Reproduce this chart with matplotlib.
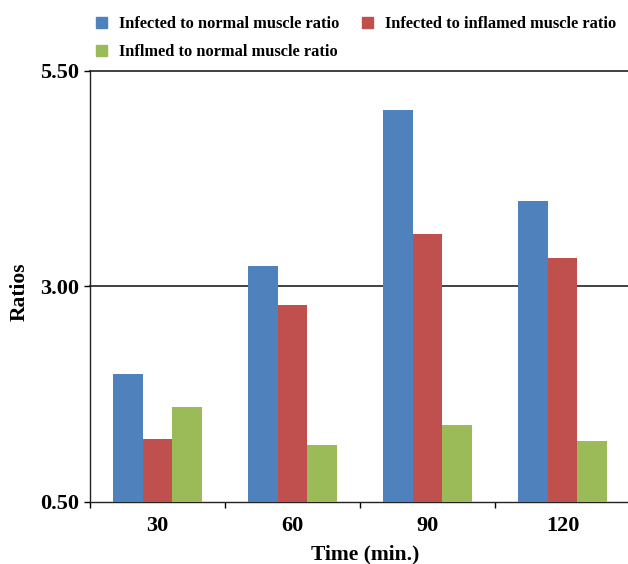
import matplotlib
matplotlib.use("Agg")
import matplotlib.pyplot as plt
import numpy as np
from matplotlib.patches import Patch

categories = ["30", "60", "90", "120"]
series_names = ["Infected to normal muscle ratio",
                "Infected to inflamed muscle ratio",
                "Inflmed to normal muscle ratio"]
infected_normal = [1.98, 3.24, 5.05, 3.99]
infected_inflamed = [1.23, 2.78, 3.61, 3.33]
inflamed_normal = [1.60, 1.16, 1.39, 1.20]
yticks = [0.50, 3.00, 5.50]

colors = ["#4F81BD", "#C0504D", "#9BBB59"]
font = "Liberation Serif"

fig = plt.figure(figsize=(6.28, 5.64), dpi=100)
ax = fig.add_axes([90 / 628, (564 - 501.7) / 564, 540 / 628, 430.7 / 564])

x = np.arange(len(categories))
w = 0.222
for i, (vals, c) in enumerate(zip([infected_normal, infected_inflamed, inflamed_normal], colors)):
    ax.bar(x + (i - 1) * w, np.array(vals) - 0.5, bottom=0.5, width=w, color=c, zorder=3)

ax.set_xlim(-0.5, len(categories) - 0.5)
ax.set_ylim(0.5, 5.5)
ax.set_yticks(yticks)
ax.set_yticklabels([f"{v:.2f}" for v in yticks])
ax.set_xticks(x)
ax.set_xticklabels(categories)
ax.set_xticks(np.arange(-0.5, len(categories) + 0.5, 1.0), minor=True)
ax.tick_params(axis="x", which="major", length=0, pad=10)
ax.tick_params(axis="x", which="minor", length=4.5, width=1.0, direction="out")
ax.tick_params(axis="y", length=4, width=1.0, pad=4)
for lbl in ax.get_xticklabels() + ax.get_yticklabels():
    lbl.set_fontfamily(font)
    lbl.set_fontweight("bold")
    lbl.set_fontsize(16)

for v in yticks[1:]:
    ax.axhline(v, color="#333333", linewidth=1.3, zorder=1, clip_on=False)

for s in ["top", "right"]:
    ax.spines[s].set_visible(False)
for s in ["left", "bottom"]:
    ax.spines[s].set_linewidth(1.0)
    ax.spines[s].set_color("#222222")

ax.set_ylabel("Ratios", fontfamily=font, fontweight="bold", fontsize=15.5)
ax.yaxis.set_label_coords(-0.111, 0.487)
ax.set_xlabel("Time (min.)", fontfamily=font, fontweight="bold", fontsize=15.5)
ax.xaxis.set_label_coords(0.51, -0.1)
ax.xaxis.label.set_va("top")

handles = [Patch(color=c) for c in colors]
order = [0, 2, 1]
leg = fig.legend([handles[i] for i in order], [series_names[i] for i in order],
                 ncol=2, loc="upper left", bbox_to_anchor=(96 / 628, 1 - 16 / 564),
                 frameon=False, prop={"family": font, "weight": "bold", "size": 11.8},
                 handlelength=0.65, handleheight=0.65, handletextpad=0.75,
                 columnspacing=1.4, labelspacing=0.75, borderaxespad=0, borderpad=0)

fig.savefig("out.png", dpi=100)
